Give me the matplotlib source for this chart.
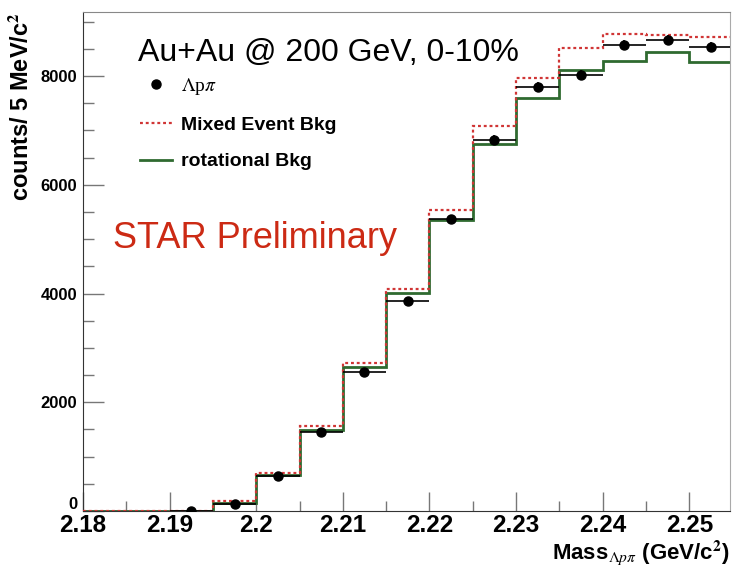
import numpy as np
import matplotlib
matplotlib.use("Agg")
import matplotlib.pyplot as plt
from matplotlib.lines import Line2D
from matplotlib.ticker import MultipleLocator, FuncFormatter

# histogram binning: 5 MeV bins from 2.18 to 2.255 GeV
bin_lo = 2.18
bin_hi = 2.255
n_bins = 15

mixed_bkg = [0, 0, 0, 184, 693, 1560, 2716, 4077, 5536, 7086, 7957, 8509, 8767, 8760, 8723]
rot_bkg = [0, 0, 0, 142, 656, 1495, 2654, 4015, 5352, 6744, 7590, 8122, 8282, 8435, 8263]

# signal points (bin centres from 2.1925 upward)
pt_mass = [2.1925, 2.1975, 2.2025, 2.2075, 2.2125, 2.2175, 2.2225, 2.2275,
           2.2325, 2.2375, 2.2425, 2.2475, 2.2525]
pt_counts = [5, 129, 644, 1447, 2562, 3862, 5370, 6823, 7804, 8018, 8570, 8662, 8540]
pt_err = [5, 15, 30, 45, 55, 65, 75, 85, 90, 90, 95, 95, 95]

plt.rcParams['font.family'] = ['Liberation Sans', 'DejaVu Sans']
plt.rcParams['mathtext.fontset'] = 'stix'

fig = plt.figure(figsize=(7.34, 5.66), dpi=100)
ax = fig.add_axes([83/734, 1-511/566, 647/734, 499/566])

edges = np.linspace(bin_lo, bin_hi, n_bins + 1)
half_w = (bin_hi - bin_lo) / n_bins / 2

ax.stairs(mixed_bkg, edges, baseline=None, color='#d03535', lw=1.6,
          linestyle=(0, (1.3, 1.3)), zorder=3)
ax.stairs(rot_bkg, edges, baseline=None, color='#2f6a30', lw=2.0, zorder=2)
ax.errorbar(pt_mass, pt_counts, xerr=half_w, yerr=pt_err, fmt='o', color='black',
            ms=6.5, elinewidth=1.2, capsize=0, zorder=4)

ax.set_xlim(2.18, 2.2547)
ax.set_ylim(0, 9180)

ax.xaxis.set_major_locator(MultipleLocator(0.01))
ax.xaxis.set_minor_locator(MultipleLocator(0.005))
ax.yaxis.set_major_locator(MultipleLocator(2000))
ax.yaxis.set_minor_locator(MultipleLocator(500))
ax.xaxis.set_major_formatter(FuncFormatter(lambda v, p: f"{v:.3f}".rstrip('0').rstrip('.')))
# the "0" is drawn separately, ROOT lifts it above the axis
ax.yaxis.set_major_formatter(FuncFormatter(lambda v, p: '' if v == 0 else f"{v:.0f}"))

ax.tick_params(which='both', direction='in', top=False, right=False, color='#777777')
ax.tick_params(axis='y', which='major', length=15, width=1, labelsize=12, pad=4)
ax.tick_params(axis='y', which='minor', length=8, width=1)
ax.tick_params(axis='x', which='major', length=14, width=1, labelsize=17.5, pad=2)
ax.tick_params(axis='x', which='minor', length=7, width=1)
for lab in ax.get_xticklabels() + ax.get_yticklabels():
    lab.set_fontweight('bold')

ax.annotate('0', xy=(0, 0), xycoords=('axes fraction', 'data'), xytext=(-4, 5),
            textcoords='offset points', ha='right', va='center', fontsize=12,
            fontweight='bold')

ax.spines['top'].set_color('#888888')
ax.spines['right'].set_color('#aaaaaa')
ax.spines['top'].set_linewidth(0.8)
ax.spines['right'].set_linewidth(0.8)
ax.spines['left'].set_color('#333333')
ax.spines['bottom'].set_color('#333333')

ax.set_ylabel('counts/ 5 MeV/c$^{\\mathbf{2}}$', fontsize=17, fontweight='bold', loc='top')
ax.yaxis.set_label_coords(-0.078, 1.0)
ax.set_xlabel('Mass$_{\\Lambda p\\pi}$ (GeV/c$^{\\mathbf{2}}$)', fontsize=16,
              fontweight='bold', loc='right')
ax.xaxis.set_label_coords(1.0, -0.054)

fig.text(138/734, 1-53/566, 'Au+Au @ 200 GeV, 0-10%', fontsize=23, va='center', ha='left')
fig.text(113/734, 1-238/566, 'STAR Preliminary', fontsize=26, color='#cc2a14',
         va='center', ha='left')

handles = [
    Line2D([], [], marker='o', color='black', linestyle='none', ms=6.5),
    Line2D([], [], color='#d03535', lw=1.6, linestyle=(0, (1.3, 1.3))),
    Line2D([], [], color='#2f6a30', lw=2.0),
]
labels = ['$\\Lambda$p$\\pi$', 'Mixed Event Bkg', 'rotational Bkg']
leg = ax.legend(handles, labels, loc='upper left', bbox_to_anchor=(140/734, 1-76/566),
                bbox_transform=fig.transFigure, frameon=False, borderpad=0, borderaxespad=0,
                handlelength=1.65, handletextpad=0.45, labelspacing=0.98,
                prop={'weight': 'bold', 'size': 14})
txt = leg.get_texts()[0]
txt.set_fontfamily('Liberation Serif')
txt.set_fontweight('normal')

fig.savefig('out.png', dpi=100)
